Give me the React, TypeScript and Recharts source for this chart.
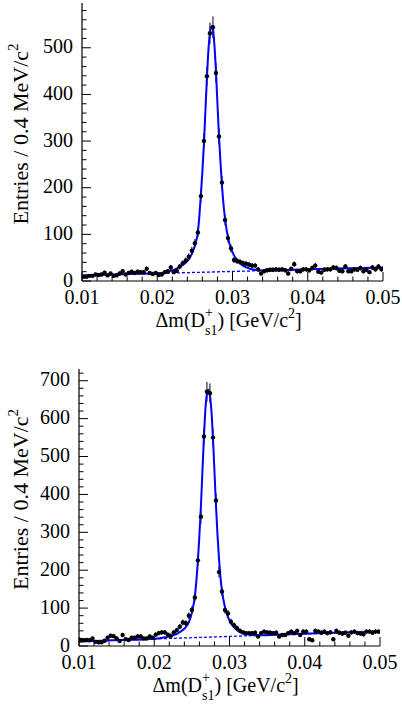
import { ComposedChart, Line, Scatter, XAxis, YAxis, ErrorBar, Label } from 'recharts'

// histogram binning: 100 bins of 0.4 MeV between 0.01 and 0.05 GeV
const BIN_LOW = 0.01
const BIN_WIDTH = 0.0004

// entries per bin, panel (a)
const countsA = [
  9, 9, 11, 11, 14, 13, 14, 18, 12, 16,
  11, 12, 16, 21, 14, 17, 20, 17, 20, 19,
  19, 26, 17, 15, 17, 13, 14, 19, 21, 29,
  19, 22, 31, 38, 44, 52, 65, 81, 104, 182,
  300, 439, 531, 544, 446, 310, 211, 131, 92, 70,
  45, 43, 41, 38, 37, 35, 33, 33, 25, 16,
  21, 23, 24, 24, 25, 24, 25, 23, 16, 26,
  36, 21, 21, 25, 25, 23, 28, 33, 20, 18,
  24, 25, 25, 29, 28, 22, 21, 31, 21, 21,
  25, 24, 28, 21, 24, 19, 29, 25, 31, 25,
]

// entries per bin, panel (b)
const countsB = [
  15, 15, 16, 15, 20, 11, 10, 10, 14, 22,
  27, 26, 20, 13, 29, 18, 16, 22, 22, 25,
  25, 20, 20, 25, 22, 30, 34, 36, 36, 30,
  27, 36, 42, 51, 62, 60, 80, 95, 128, 226,
  341, 553, 671, 667, 550, 384, 195, 144, 95, 86,
  64, 55, 47, 40, 36, 34, 34, 34, 35, 25,
  34, 38, 36, 35, 34, 35, 25, 29, 29, 34,
  38, 34, 40, 29, 38, 38, 18, 15, 40, 38,
  35, 38, 34, 36, 18, 40, 35, 33, 35, 27,
  36, 38, 34, 33, 31, 38, 38, 35, 38, 38,
]

// fit curve
const fitX = [
  0.01, 0.013, 0.016, 0.019, 0.0205, 0.0215, 0.0225, 0.0235, 0.0242, 0.0246,
  0.025, 0.0254, 0.0256, 0.0258, 0.026, 0.0262, 0.0264, 0.0266, 0.0268, 0.027,
  0.0272, 0.0274, 0.0276, 0.0278, 0.028, 0.0282, 0.0284, 0.0286, 0.0288, 0.029,
  0.0294, 0.0298, 0.0302, 0.0306, 0.031, 0.0315, 0.032, 0.0326, 0.0333, 0.0345,
  0.037, 0.04, 0.043, 0.046, 0.05,
]
const fitA = [
  12, 13.5, 15, 16, 17, 20, 26, 36, 47, 58,
  76, 105, 140, 185, 235, 293, 365, 435, 495, 532,
  546, 540, 505, 450, 380, 312, 255, 205, 165, 135,
  93, 70, 55, 45, 38, 32, 28, 25, 23, 22.5,
  23.5, 25, 26.5, 27.5, 29,
]
const fitB = [
  12, 14, 16, 18, 20, 23, 28, 38, 50, 63,
  88, 132, 172, 225, 292, 368, 460, 550, 625, 665,
  676, 662, 620, 550, 462, 372, 295, 232, 182, 146,
  102, 76, 60, 49, 42, 36, 32.5, 30, 28.5, 28.5,
  30.5, 32.5, 34.5, 36.5, 38.5,
]

// background component (dashed)
const bgX = [0.01, 0.05]
const bgA = [12, 29]
const bgB = [12, 38.5]

const xMajor = [0.01, 0.02, 0.03, 0.04, 0.05]
const yMajorA = [0, 100, 200, 300, 400, 500]
const yMajorB = [0, 100, 200, 300, 400, 500, 600, 700]

const FONT = '"Liberation Serif", "Times New Roman", Tinos, "DejaVu Serif", serif'
const BLUE = '#0000ff'
const txt = { fontFamily: FONT }

// 4 minor ticks between majors (ROOT style), also past the last major up to max
function withMinors(major: number[], max: number, scale: number) {
  const step = Math.round((major[1] - major[0]) * scale) / 5
  const out: number[] = []
  for (let k = Math.round(major[0] * scale); k <= Math.round(max * scale) + 1e-9; k += step) {
    out.push(Math.round(k * 1000) / 1000 / scale)
  }
  return out
}

const isMajor = (v: number, major: number[]) => major.some((m) => Math.abs(m - v) < 1e-9)

function makeTicks(major: number[], kind: 'bottom' | 'top' | 'left' | 'right') {
  return function Tick(props: any) {
    const { x, y, payload } = props
    const v = payload.value
    const mj = isMajor(v, major)
    const len = mj ? 9 : 4.5
    if (kind === 'bottom') {
      return (
        <g>
          <line x1={x} x2={x} y1={y} y2={y - len} stroke="#000" strokeWidth={1} />
          {mj && (
            <text x={x} y={y + 23} textAnchor="middle" fontSize={20} style={txt} fill="#000">
              {v.toFixed(2)}
            </text>
          )}
        </g>
      )
    }
    if (kind === 'top') {
      return <line x1={x} x2={x} y1={y} y2={y + len} stroke="#000" strokeWidth={1} />
    }
    if (kind === 'left') {
      return (
        <g>
          <line x1={x} x2={x + len} y1={y} y2={y} stroke="#000" strokeWidth={1} />
          {mj && (
            <text x={x - 9} y={y + 5.5} textAnchor="end" fontSize={20} style={txt} fill="#000">
              {v}
            </text>
          )}
        </g>
      )
    }
    return <line x1={x} x2={x - len} y1={y} y2={y} stroke="#000" strokeWidth={1} />
  }
}

function XTitle({ viewBox }: any) {
  const start = viewBox.x + viewBox.width / 2 - 77
  return (
    <text x={start} y={viewBox.y + 46} fontSize={20} style={txt} fill="#000">
      <tspan>Δm(D</tspan>
      <tspan fontSize={14} dy={-10}>+</tspan>
      <tspan fontSize={14} dx={-7.9} dy={18}>s1</tspan>
      <tspan dy={-8}>) [GeV/c</tspan>
      <tspan fontSize={14} dy={-9}>2</tspan>
      <tspan dy={9}>]</tspan>
    </text>
  )
}

function YTitle({ viewBox }: any) {
  const cy = viewBox.y + viewBox.height / 2 - 8
  return (
    <text
      x={28}
      y={cy}
      transform={`rotate(-90 28 ${cy})`}
      textAnchor="middle"
      fontSize={22}
      style={txt}
      fill="#000"
    >
      <tspan>Entries / 0.4 MeV/c</tspan>
      <tspan fontSize={15} dy={-10}>2</tspan>
    </text>
  )
}

function Dot(props: any) {
  const { cx, cy } = props
  if (cx == null || cy == null) return null
  return <circle cx={cx} cy={cy} r={2.2} fill="#000" />
}

interface PanelProps {
  counts: number[]
  fit: number[]
  bg: number[]
  yMajor: number[]
  yMax: number
  tag: string
  margin: { top: number; right: number; bottom: number; left: number }
}

function Panel({ counts, fit, bg, yMajor, yMax, tag, margin }: PanelProps) {
  const points = counts.map((c, i) => ({
    x: Math.round((BIN_LOW + BIN_WIDTH * (i + 0.5)) * 1e6) / 1e6,
    y: c,
    err: Math.sqrt(c),
  }))
  const fitData = fitX.map((x, i) => ({ x, y: fit[i] }))
  const bgData = bgX.map((x, i) => ({ x, y: bg[i] }))
  const xTicks = withMinors(xMajor, 0.05, 1000)
  const yTicks = withMinors(yMajor, yMax, 1)

  return (
    <ComposedChart width={402} height={356} margin={margin} style={txt}>
      <XAxis
        type="number"
        dataKey="x"
        domain={[0.01, 0.05]}
        allowDataOverflow
        ticks={xTicks}
        interval={0}
        tick={makeTicks(xMajor, 'bottom')}
        tickLine={false}
        tickSize={0}
        tickMargin={0}
        height={50}
        axisLine={{ stroke: '#000', strokeWidth: 1.2 }}
      >
        <Label content={(p: any) => <XTitle viewBox={p.viewBox} />} />
      </XAxis>
      <XAxis
        xAxisId="top"
        orientation="top"
        type="number"
        dataKey="x"
        domain={[0.01, 0.05]}
        allowDataOverflow
        ticks={xTicks}
        interval={0}
        tick={makeTicks(xMajor, 'top')}
        tickLine={false}
        tickSize={0}
        tickMargin={0}
        height={0}
        axisLine={{ stroke: '#000', strokeWidth: 1.2 }}
      >
        <Label
          content={(p: any) => (
            <text
              x={p.viewBox.x + p.viewBox.width - 48}
              y={p.viewBox.y + p.viewBox.height + 30}
              fontSize={21}
              style={txt}
              fill="#000"
            >
              {tag}
            </text>
          )}
        />
      </XAxis>
      <YAxis
        type="number"
        domain={[0, yMax]}
        allowDataOverflow
        ticks={yTicks}
        interval={0}
        tick={makeTicks(yMajor, 'left')}
        tickLine={false}
        tickSize={0}
        tickMargin={0}
        width={60}
        axisLine={{ stroke: '#000', strokeWidth: 1.2 }}
      >
        <Label content={(p: any) => <YTitle viewBox={p.viewBox} />} />
      </YAxis>
      <YAxis
        yAxisId="right"
        orientation="right"
        type="number"
        domain={[0, yMax]}
        allowDataOverflow
        ticks={yTicks}
        interval={0}
        tick={makeTicks(yMajor, 'right')}
        tickLine={false}
        tickSize={0}
        tickMargin={0}
        width={0}
        axisLine={{ stroke: '#000', strokeWidth: 1.2 }}
      />
      <Line
        data={bgData}
        dataKey="y"
        type="linear"
        dot={false}
        stroke={BLUE}
        strokeWidth={1.3}
        strokeDasharray="3 2"
        isAnimationActive={false}
      />
      <Scatter data={points} dataKey="y" shape={<Dot />} isAnimationActive={false}>
        <ErrorBar dataKey="err" direction="y" width={0} stroke="#000" strokeWidth={1} />
      </Scatter>
      <Line
        data={fitData}
        dataKey="y"
        type="monotone"
        dot={false}
        stroke={BLUE}
        strokeWidth={2}
        isAnimationActive={false}
      />
    </ComposedChart>
  )
}

export default function App() {
  return (
    <div
      style={{
        position: 'absolute',
        left: 0,
        top: 0,
        width: 402,
        height: 712,
        background: '#fff',
        fontFamily: FONT,
      }}
    >
      <div style={{ position: 'absolute', left: 0, top: 0 }}>
        <Panel
          counts={countsA}
          fit={fitA}
          bg={bgA}
          yMajor={yMajorA}
          yMax={596}
          tag="(a)"
          margin={{ top: 3, right: 19, bottom: 25, left: 22 }}
        />
      </div>
      <div style={{ position: 'absolute', left: 0, top: 356 }}>
        <Panel
          counts={countsB}
          fit={fitB}
          bg={bgB}
          yMajor={yMajorB}
          yMax={731}
          tag="(b)"
          margin={{ top: 13, right: 22, bottom: 16, left: 19 }}
        />
      </div>
    </div>
  )
}
